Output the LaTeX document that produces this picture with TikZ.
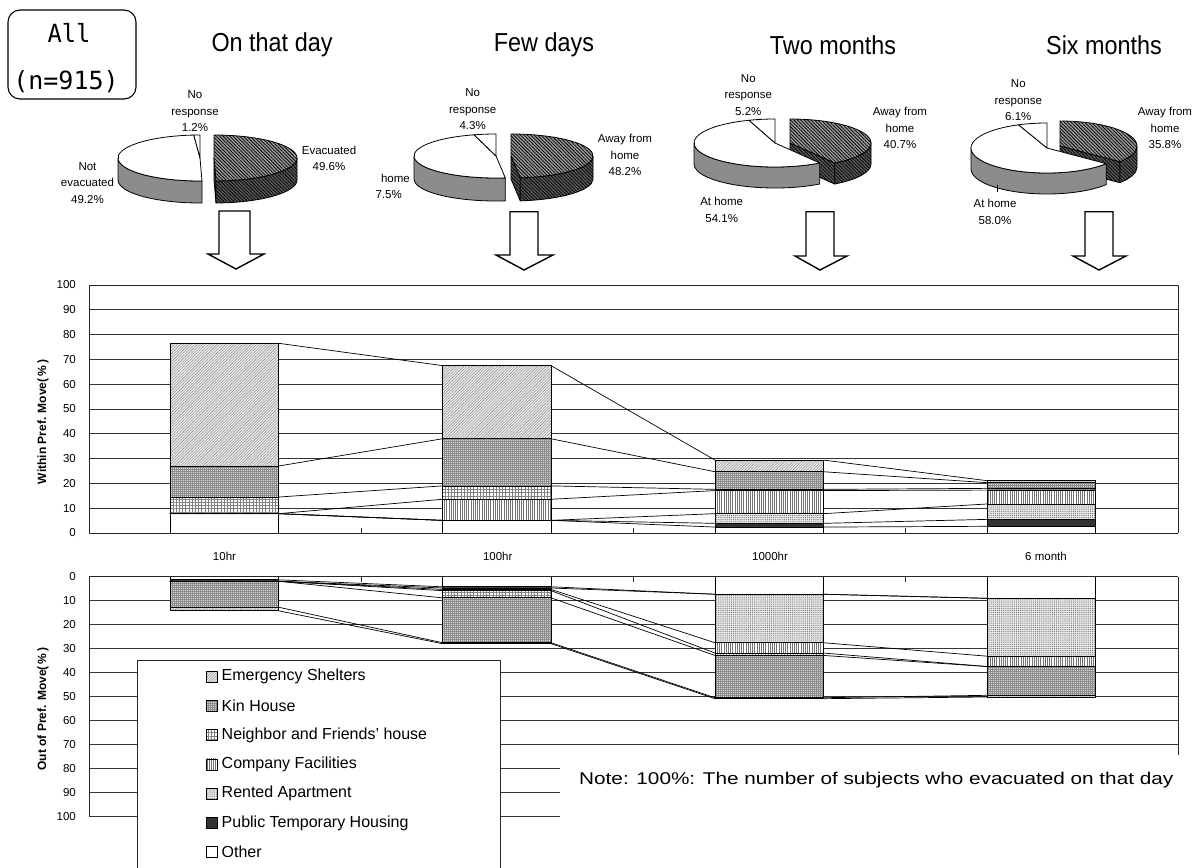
\documentclass[tikz,border=0pt]{standalone}
\usepackage{fontspec}
\usepackage{graphicx}
\setmainfont{Liberation Sans}
\newfontfamily\monof{DejaVu Sans Mono}
\usetikzlibrary{patterns.meta}

% pie pieces: style, cx, cy, a, b, d, from, to
\newcommand\PW[8]{\path[#1] (#2,#3) ++(#7:#4 and #5) arc[start angle=#7,end angle=#8,x radius=#4,y radius=#5] -- ++(0,-#6) arc[start angle=#8,end angle=#7,x radius=#4,y radius=#5] -- cycle;}
\newcommand\PT[8]{\path[#1] (#2,#3) -- ++(#7:#4 and #5) arc[start angle=#7,end angle=#8,x radius=#4,y radius=#5] -- cycle;}
\newcommand\PR[7]{\path[#1] (#2,#3) -- ++(#7:#4 and #5) -- ++(0,-#6) -- (#2,#3-#6) -- cycle;}

% stacked bar: left x, 7 cumulative values, name
\newcommand\stackbar[9]{%
 \path[seg,sOT] (#1,0) rectangle (#1+108.5,#2);
 \path[seg,sPT] (#1,#2) rectangle (#1+108.5,#3);
 \path[seg,sRA] (#1,#3) rectangle (#1+108.5,#4);
 \path[seg,sCF] (#1,#4) rectangle (#1+108.5,#5);
 \path[seg,sNF] (#1,#5) rectangle (#1+108.5,#6);
 \path[seg,sKH] (#1,#6) rectangle (#1+108.5,#7);
 \path[seg,sES] (#1,#7) rectangle (#1+108.5,#8);
 \coordinate (#9-1L) at (#1,#2); \coordinate (#9-1R) at (#1+108.5,#2);
 \coordinate (#9-2L) at (#1,#3); \coordinate (#9-2R) at (#1+108.5,#3);
 \coordinate (#9-3L) at (#1,#4); \coordinate (#9-3R) at (#1+108.5,#4);
 \coordinate (#9-4L) at (#1,#5); \coordinate (#9-4R) at (#1+108.5,#5);
 \coordinate (#9-5L) at (#1,#6); \coordinate (#9-5R) at (#1+108.5,#6);
 \coordinate (#9-6L) at (#1,#7); \coordinate (#9-6R) at (#1+108.5,#7);
 \coordinate (#9-7L) at (#1,#8); \coordinate (#9-7R) at (#1+108.5,#8);
}
\newcommand\legent[4]{%
 \path[seg,#1] (206,-#2+5.5) rectangle (217,-#2-5.5);
 \node[legf] (#4) at (221.5,-#2) {#3};}

\tikzset{
 seg/.style={draw=black, line width=0.7pt},
 sOT/.style={fill=white},
 sPT/.style={fill=black!80},
 sRA/.style={preaction={fill=black!8}, pattern={Dots[distance=1.9pt,radius=0.5pt]}, pattern color=black!65},
 sCF/.style={preaction={fill=white}, pattern={Lines[angle=90,distance=2.2pt,line width=0.6pt]}, pattern color=black!55},
 sNF/.style={preaction={fill=white}, pattern={Hatch[angle=0,distance=3.2pt,line width=0.4pt]}, pattern color=black!50},
 sKH/.style={preaction={fill=black!15}, pattern={Hatch[angle=0,distance=2pt,line width=0.3pt]}, pattern color=black!45},
 sES/.style={preaction={fill=black!8}, pattern={Lines[angle=45,distance=2pt,line width=0.4pt]}, pattern color=black!50},
 link/.style={draw=black, line width=0.7pt},
 grid/.style={draw=black!80, line width=0.8pt},
 frame/.style={draw=black!85, line width=0.9pt},
 ytick/.style={font=\fontsize{11.5}{13}\selectfont, anchor=east, inner sep=0pt},
 ytitle/.style={font=\bfseries\fontsize{12}{14}\selectfont, rotate=90, inner sep=0pt},
 cat/.style={font=\fontsize{11.5}{13}\selectfont, inner sep=0pt},
 lbl/.style={font=\fontsize{11.5}{16.5}\selectfont, align=center, inner sep=0pt},
 ttl/.style={font=\fontsize{26}{30}\selectfont, inner sep=0pt},
 allf/.style={font=\monof\fontsize{25}{28}\selectfont, inner sep=0pt},
 legf/.style={font=\fontsize{16}{18}\selectfont, anchor=west, inner sep=0pt},
 ptop/.style={draw=black, line width=0.8pt, preaction={fill=black!40}, pattern={Lines[angle=-45,distance=2.4pt,line width=0.75pt]}, pattern color=black},
 pwall/.style={draw=black, line width=0.8pt, preaction={fill=black!65}, pattern={Lines[angle=-45,distance=2.4pt,line width=0.75pt]}, pattern color=black},
 lwall/.style={draw=black, line width=0.8pt, fill=black!45},
 ltop/.style={draw=black, line width=0.8pt, fill=white},
 bigarrow/.style={draw=black, line width=1.4pt, fill=white, line join=miter},
}

\begin{document}
\begin{tikzpicture}[x=1pt,y=1pt,line join=round]
\useasboundingbox (0,0) rectangle (1198,-867);
\fill[white] (0,0) rectangle (1198,-867);

% ---------- header ----------
\draw[line width=1.1pt, rounded corners=12pt] (8,-10) rectangle (136,-99);
\node[allf] (all) at (69,-33) {\scalebox{0.95}[1]{All}};
\node[allf] (nn) at (66,-82) {(n=915)};
\node[ttl] (t1) at (272,-45) {\scalebox{0.9}[1]{On that day}};
\node[ttl] (t2) at (544,-45) {\scalebox{0.9}[1]{Few days}};
\node[ttl] (t3) at (833,-45) {\scalebox{0.9}[1]{Two months}};
\node[ttl] (t4) at (1104,-45) {\scalebox{0.9}[1]{Six months}};

% ---------- pie 1 ----------
\PR{pwall}{214}{-158}{83}{23}{22}{-88.6}
\PW{pwall}{214}{-158}{83}{23}{22}{-88.6}{0}
\PT{ptop}{214}{-158}{83}{23}{22}{-88.6}{90}
\PW{lwall}{200}{-158}{82}{23}{22}{180}{271.4}
\PT{ltop}{200}{-158}{82}{23}{22}{94.3}{271.4}
\PT{ltop}{200}{-158}{82}{23}{22}{90}{94.3}
\node[lbl] (p1nr) at (195,-111.3) {No\\response\\1.2\%};
\node[lbl] (p1ev) at (329,-158.5) {Evacuated\\49.6\%};
\node[lbl] (p1ne) at (87.5,-183) {Not\\evacuated\\49.2\%};

% ---------- pie 2 ----------
\PR{pwall}{511}{-156}{82}{22}{23}{-83.5}
\PW{pwall}{511}{-156}{82}{22}{23}{-83.5}{0}
\PT{ptop}{511}{-156}{82}{22}{23}{-83.5}{90}
\PW{lwall}{496}{-156}{82}{22}{23}{180}{276.5}
\PT{ltop}{496}{-156}{82}{22}{23}{105.5}{276.5}
\PT{ltop}{496}{-156}{82}{22}{23}{90}{105.5}
\node[lbl] (p2nr) at (472.7,-109.3) {No\\response\\4.3\%};
\node[lbl] (p2aw) at (625,-155) {Away from\\home\\48.2\%};
\node[lbl, anchor=east] (p2h1) at (410,-178.3) {home};
\node[lbl, anchor=east] (p2h2) at (402,-195) {7.5\%};

% ---------- pie 3 ----------
\PR{pwall}{790}{-143}{81}{24}{21}{-56.5}
\PW{pwall}{790}{-143}{81}{24}{21}{-56.5}{0}
\PT{ptop}{790}{-143}{81}{24}{21}{-56.5}{90}
\PW{lwall}{775}{-143}{81}{24}{21}{180}{303.5}
\PT{ltop}{775}{-143}{81}{24}{21}{108.7}{303.5}
\PT{ltop}{775}{-143}{81}{24}{21}{90}{108.7}
\node[lbl] (p3nr) at (748.3,-95) {No\\response\\5.2\%};
\node[lbl] (p3aw) at (900,-128.3) {Away from\\home\\40.7\%};
\node[lbl] (p3ah) at (721.7,-210) {At home\\54.1\%};

% ---------- pie 4 ----------
\PR{pwall}{1060}{-146}{77}{25}{21}{-38.9}
\PW{pwall}{1060}{-146}{77}{25}{21}{-38.9}{0}
\PT{ptop}{1060}{-146}{77}{25}{21}{-38.9}{90}
\PW{lwall}{1047}{-148}{76}{25}{21}{180}{321.1}
\PT{ltop}{1047}{-148}{76}{25}{21}{112}{321.1}
\PT{ltop}{1047}{-148}{76}{25}{21}{90}{112}
\node[lbl] (p4nr) at (1018.3,-100.5) {No\\response\\6.1\%};
\node[lbl] (p4aw) at (1165,-128.3) {Away from\\home\\35.8\%};
\node[lbl] (p4ah) at (995,-212) {At home\\58.0\%};
\draw[line width=0.6pt] (997,-185) -- (997,-192);

% ---------- arrows ----------
\draw[bigarrow] (219,-211) -- (250,-211) -- (250,-254) -- (264,-254) -- (236,-269) -- (208,-254) -- (219,-254) -- cycle;
\draw[bigarrow] (510,-211.7) -- (538,-211.7) -- (538,-255) -- (553,-255) -- (524,-270) -- (496,-255) -- (510,-255) -- cycle;
\draw[bigarrow] (806,-211.7) -- (834,-211.7) -- (834,-256) -- (847,-256) -- (820,-270) -- (795,-256) -- (806,-256) -- cycle;
\draw[bigarrow] (1085,-211.7) -- (1113,-211.7) -- (1113,-256) -- (1126,-256) -- (1099,-270) -- (1073,-256) -- (1085,-256) -- cycle;

% ---------- upper chart ----------
\begin{scope}[shift={(0,-533)}, y=2.48pt]
 \foreach \v in {10,20,...,90} \draw[grid] (89,\v) -- (1178,\v);
 \draw[frame] (89,100) -- (1178,100) -- (1178,0);
 \foreach \v in {0,10,...,100} \node[ytick] (yu\v) at (76,\v) {\v};
 \foreach \x in {361,633,905} \draw[frame] (\x,0) -- (\x,2);
 \stackbar{170}{7.8}{7.8}{7.8}{7.8}{14.5}{27.0}{76.5}{U1}
 \stackbar{442.5}{5.1}{5.1}{5.1}{13.6}{19.0}{38.0}{67.5}{U2}
 \stackbar{715}{2.4}{3.9}{7.8}{17.1}{17.6}{24.7}{29.4}{U3}
 \stackbar{987}{2.7}{5.5}{11.7}{17.3}{18.0}{20.3}{21.1}{U4}
 \foreach \k in {1,...,7} {
  \draw[link] (U1-\k R) -- (U2-\k L);
  \draw[link] (U2-\k R) -- (U3-\k L);
  \draw[link] (U3-\k R) -- (U4-\k L);
 }
 \draw[frame] (89,100) -- (89,0) -- (1178,0);
\end{scope}
\node[ytitle] (yt1) at (43,-422) {Within Pref. Move(\,\%\,)};
\node[cat] (c1) at (224.5,-556.7) {10hr};
\node[cat] (c2) at (497.7,-556.7) {100hr};
\node[cat] (c3) at (770,-556.7) {1000hr};
\node[cat] (c4) at (1046,-556.7) {6 month};

% ---------- lower chart ----------
\begin{scope}[shift={(0,-576.7)}, y=-2.401pt]
 \foreach \v in {10,20,...,100} \draw[grid] (89,\v) -- (1178,\v);
 \draw[frame] (1178,0) -- (1178,100);
 \foreach \v in {0,10,...,100} \node[ytick] (yl\v) at (76,\v) {\v};
 \foreach \x in {361,633,905} \draw[frame] (\x,0) -- (\x,2);
 \stackbar{170}{1.3}{1.9}{1.9}{1.9}{1.9}{12.7}{14.2}{L1}
 \stackbar{442.5}{4.2}{4.7}{5.3}{5.8}{8.8}{27.5}{27.9}{L2}
 \stackbar{715}{7.3}{7.3}{27.5}{31.8}{32.8}{50.4}{50.8}{L3}
 \stackbar{987}{9.0}{9.0}{33.1}{37.4}{37.4}{49.4}{50.1}{L4}
 \foreach \k in {1,...,7} {
  \draw[link] (L1-\k R) -- (L2-\k L);
  \draw[link] (L2-\k R) -- (L3-\k L);
  \draw[link] (L3-\k R) -- (L4-\k L);
 }
 \draw[frame] (1178,0) -- (89,0) -- (89,100);
\end{scope}
\node[ytitle] (yt2) at (43,-709) {Out of Pref. Move(\,\%\,)};

% ---------- legend ----------
\path[fill=white, frame] (137,-660) rectangle (500.7,-880);
\legent{sES}{676.7}{Emergency Shelters}{lg1}
\legent{sKH}{705.9}{Kin House}{lg2}
\legent{sNF}{735.2}{Neighbor and Friends' house}{lg3}
\legent{sCF}{764.4}{Company Facilities}{lg4}
\legent{sRA}{793.7}{Rented Apartment}{lg5}
\legent{sPT}{822.9}{Public Temporary Housing}{lg6}
\legent{sOT}{852.2}{Other}{lg7}

% ---------- note ----------
\fill[white] (560,-755) rectangle (1198,-867);
\node[font=\fontsize{17}{19}\selectfont, anchor=west, inner sep=0pt] (note) at (579,-780) {\scalebox{1.22}[1]{Note: 100\%: The number of subjects who evacuated on that day}};
\end{tikzpicture}
\end{document}
